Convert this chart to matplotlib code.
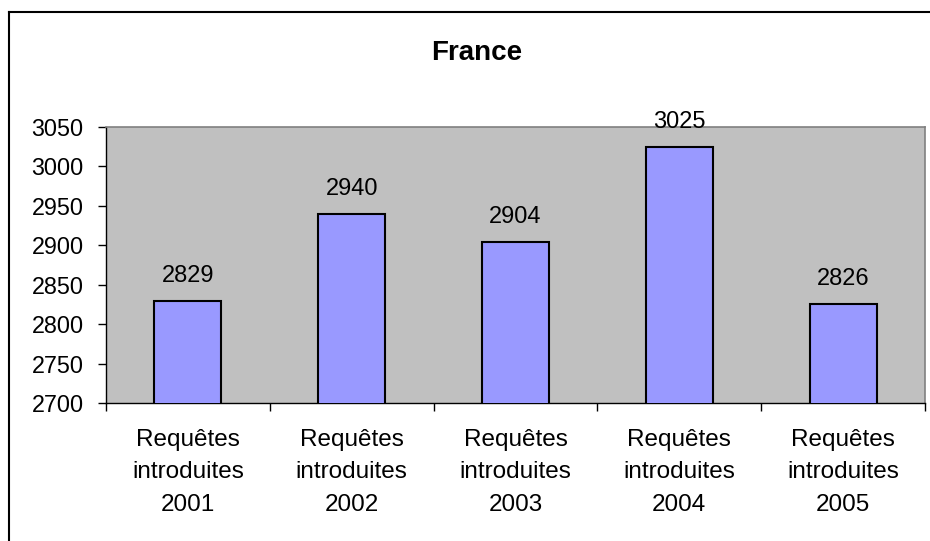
import matplotlib
matplotlib.use("Agg")
import matplotlib.pyplot as plt
from matplotlib.lines import Line2D
import numpy as np

plt.rcParams['font.family'] = ['Liberation Sans', 'DejaVu Sans']

title = "France"
categories = ["Requêtes\nintroduites\n2001", "Requêtes\nintroduites\n2002",
              "Requêtes\nintroduites\n2003", "Requêtes\nintroduites\n2004",
              "Requêtes\nintroduites\n2005"]
values = [2829, 2940, 2904, 3025, 2826]
yticks = [2700, 2750, 2800, 2850, 2900, 2950, 3000, 3050]

W, H = 930, 541
fig = plt.figure(figsize=(W / 100, H / 100), dpi=100)
fig.patch.set_facecolor('white')

ax = fig.add_axes([106 / W, 1 - 403 / H, (925 - 106) / W, (403 - 127) / H])
ax.set_facecolor('#C0C0C0')

x = np.arange(len(values))
ax.bar(x, values, width=0.41, bottom=0, color='#9999FF', edgecolor='black', linewidth=1.5, zorder=3)

ax.set_ylim(2700, 3050)
ax.set_xlim(-0.5, len(values) - 0.5)
ax.set_yticks(yticks)
ax.set_yticklabels([str(t) for t in yticks])

# category boundaries as major ticks, labels at centers as minor ticks
ax.set_xticks(np.arange(len(values) + 1) - 0.5)
ax.set_xticklabels([])
ax.set_xticks(x, minor=True)
ax.set_xticklabels(categories, minor=True, linespacing=1.62)
ax.tick_params(axis='x', which='minor', length=0, pad=18.5, labelsize=17.5)
ax.tick_params(axis='x', which='major', length=6, width=1, direction='out', color='black')
ax.tick_params(axis='y', length=6, width=1, direction='out', pad=10, labelsize=16.8)

for s in ['left', 'bottom']:
    ax.spines[s].set_color('black')
    ax.spines[s].set_linewidth(1)
for s in ['top', 'right']:
    ax.spines[s].set_color('#808080')
    ax.spines[s].set_linewidth(1.2)

for xi, v in zip(x, values):
    ax.annotate(str(v), (xi, v), xytext=(0, 13.7), textcoords='offset points',
                ha='center', va='baseline', fontsize=17, zorder=4, annotation_clip=False)

fig.text(477 / W, 1 - 60 / H, title, ha='center', va='baseline', fontsize=20, fontweight='bold')

# outer chart border (left and top visible)
fig.add_artist(Line2D([8.5 / W, 8.5 / W], [0, 1 - 11.5 / H], color='black', linewidth=1.5, transform=fig.transFigure))
fig.add_artist(Line2D([8.5 / W, 1], [1 - 11.5 / H, 1 - 11.5 / H], color='black', linewidth=1.5, transform=fig.transFigure))

fig.savefig('out.png', dpi=100, facecolor='white')
